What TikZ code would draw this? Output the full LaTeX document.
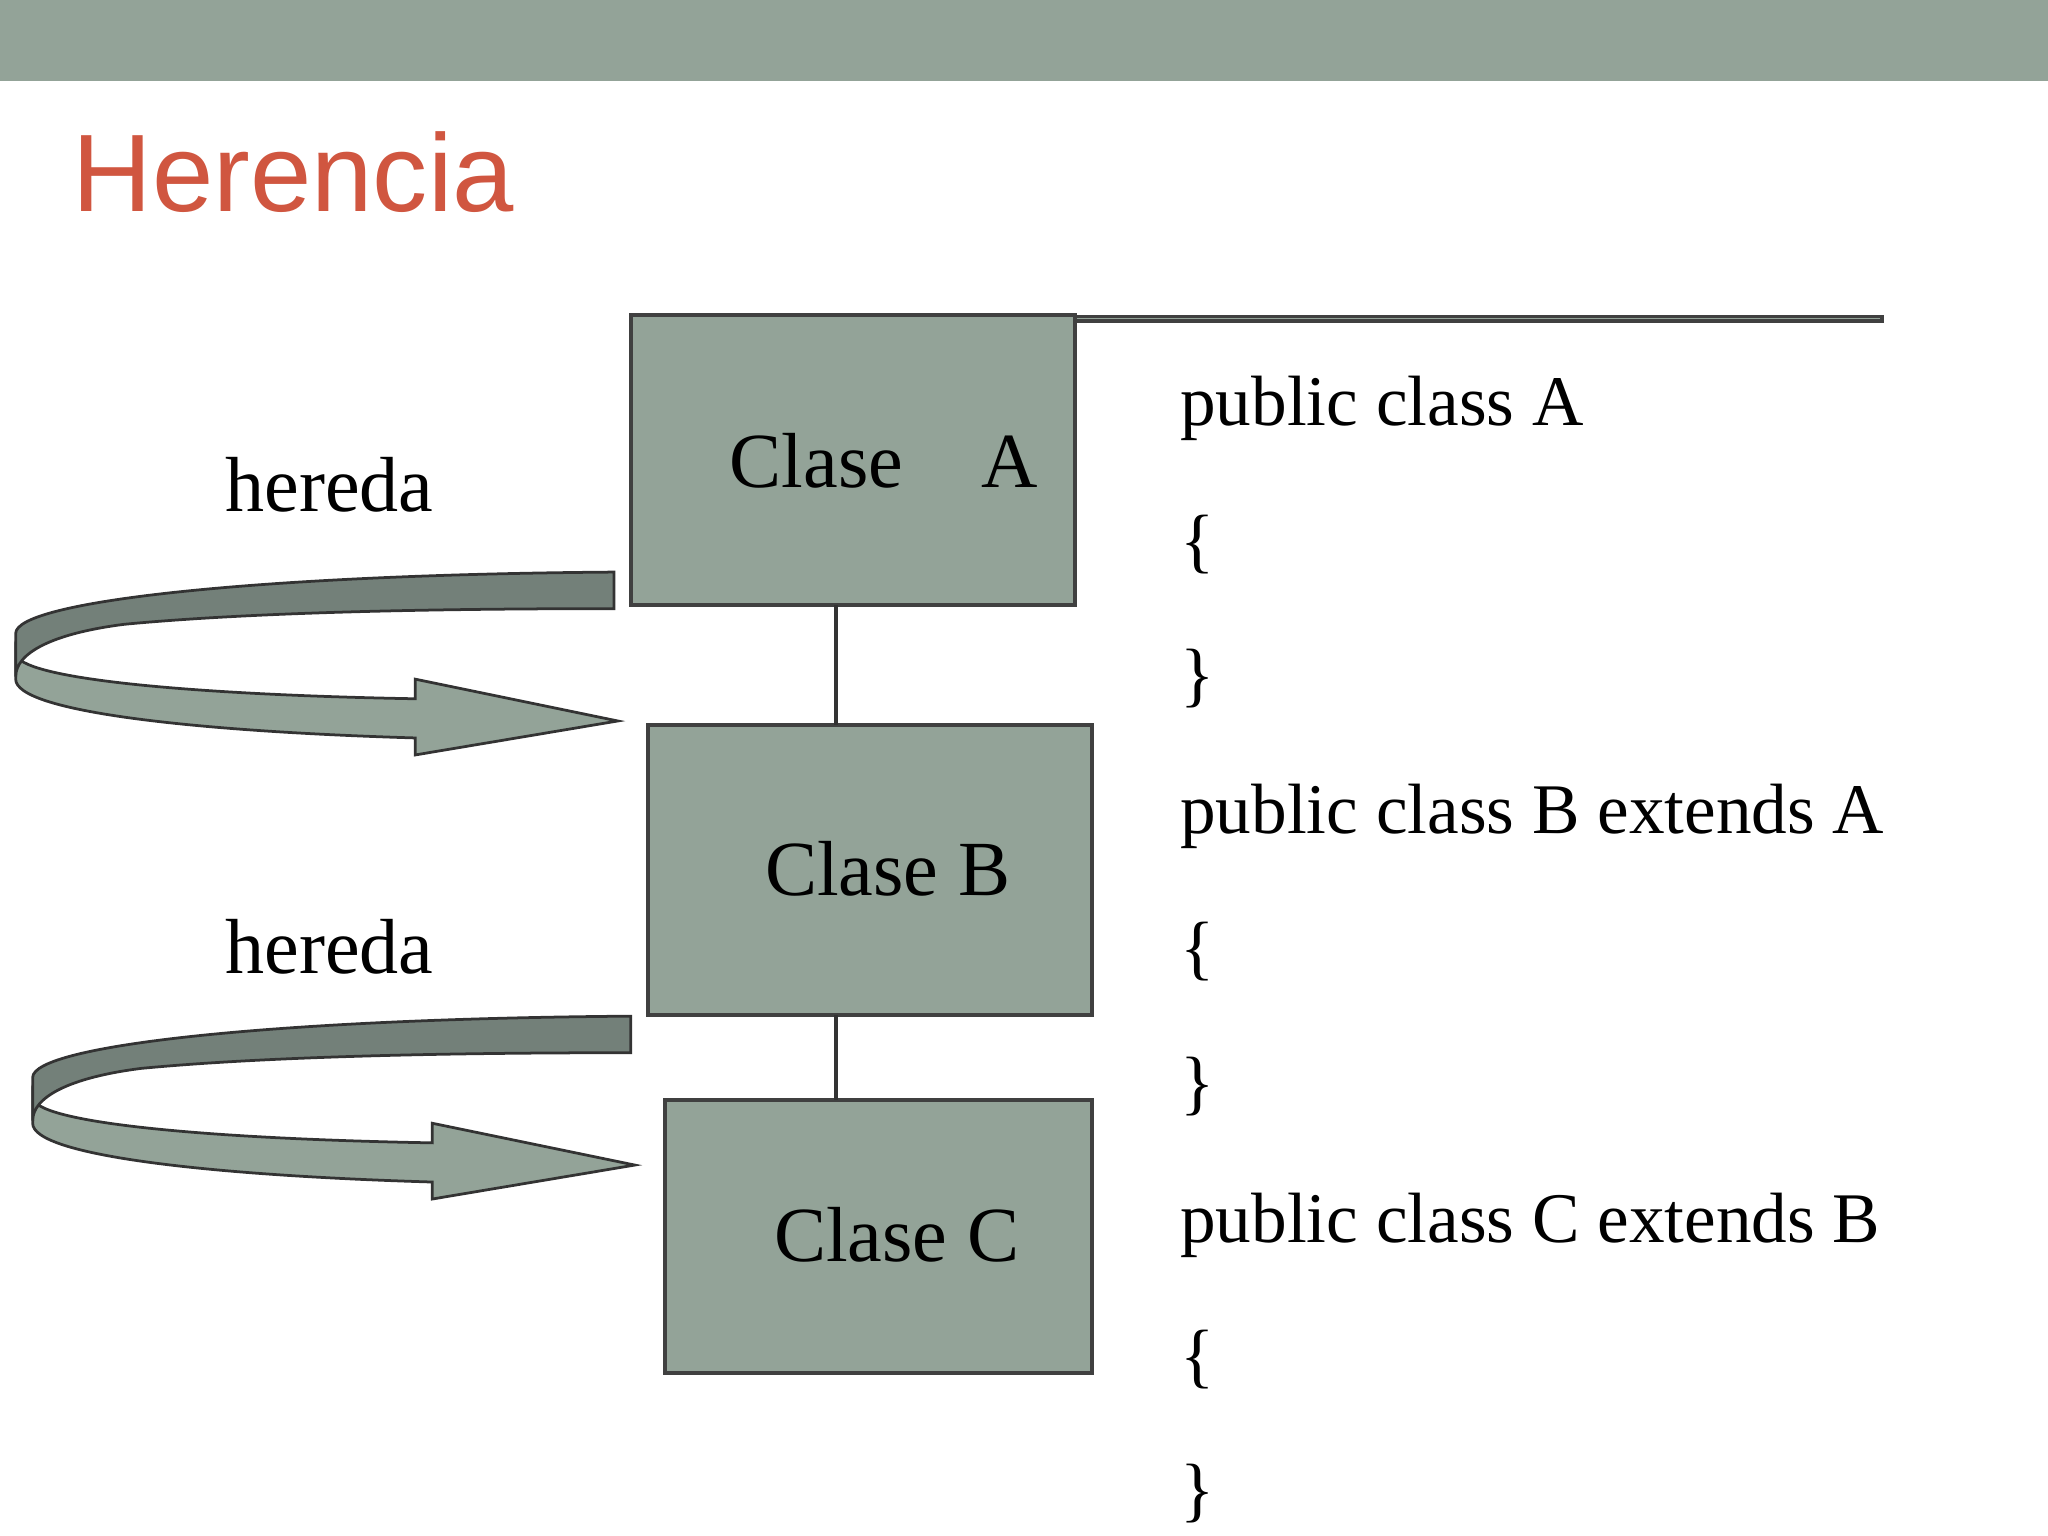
\documentclass[tikz,border=0pt]{standalone}
\usepackage{fontspec}
\setmainfont{Liberation Serif}
\newfontfamily\titlefont{Liberation Sans}
\definecolor{sage}{RGB}{147,163,152}
\definecolor{darksage}{RGB}{115,128,121}
\definecolor{titlered}{RGB}{208,86,64}
\tikzset{
  clsbox/.style={draw=black!75, fill=sage, line width=0.8pt, inner sep=0pt, anchor=north west},
  lbl/.style={font=\fontsize{17}{20}\selectfont, anchor=base west, inner sep=0pt},
  code/.style={font=\fontsize{15.5}{18}\selectfont, anchor=base west, inner sep=0pt},
  ribbon/.style={draw=black!80, line width=0.6pt}
}
\begin{document}
\begin{tikzpicture}[x=0.01cm,y=-0.01cm]
\useasboundingbox (0,0) rectangle (1568,1176);
\fill[sage] (0,0) rectangle (1568,62);
\node[anchor=base west, inner sep=0pt, text=titlered, font=\titlefont\fontsize{24}{28}\selectfont] (title) at (55,162) {Herencia};
% boxes
\node[clsbox, minimum width=340\pgflinewidth, text width=0] (A) at (483,241) {};
\draw[clsbox] (483,241) rectangle (823,463);
\draw[clsbox] (496,555) rectangle (836,777);
\draw[clsbox] (509,842) rectangle (836,1051);
\node[lbl] (la) at (558,373) {Clase\quad A};
\node[lbl] (lb) at (585,686) {Clase B};
\node[lbl] (lc) at (592,966) {Clase C};
\coordinate (a1) at (640,463); \coordinate (b1) at (640,555);
\coordinate (b2) at (640,777); \coordinate (c1) at (640,842);
\draw[black!80, line width=0.8pt] (a1) -- (b1);
\draw[black!80, line width=0.8pt] (b2) -- (c1);
\node[lbl] (h1) at (172,392) {hereda};
\node[lbl] (h2) at (172,745) {hereda};
% ribbon arrows
\foreach \dx/\dy in {0/0, 13/340} {
\begin{scope}[shift={(\dx,\dy)}]
\draw[ribbon, fill=sage] (12,500) .. controls (12,520) and (150,532) .. (318,535)
  -- (318,520) -- (473,552) -- (318,578) -- (318,565)
  .. controls (150,560) and (12,545) .. (12,520) -- cycle;
\draw[ribbon, fill=darksage] (470,438) .. controls (200,440) and (12,460) .. (12,485)
  -- (12,518) .. controls (12,500) and (40,485) .. (95,478)
  .. controls (200,468) and (350,466) .. (470,466) -- cycle;
\end{scope}}
% code
\node[code] (c1t) at (903,326) {public class A};
\node[code] (c2t) at (903,432) {\{};
\node[code] (c3t) at (903,535) {\}};
\node[code] (c4t) at (903,638) {public class B extends A};
\node[code] (c5t) at (903,744) {\{};
\node[code] (c6t) at (903,847) {\}};
\node[code] (c7t) at (903,951) {public class C extends B};
\node[code] (c8t) at (903,1056) {\{};
\node[code] (c9t) at (903,1159) {\}};
\end{tikzpicture}
\end{document}
